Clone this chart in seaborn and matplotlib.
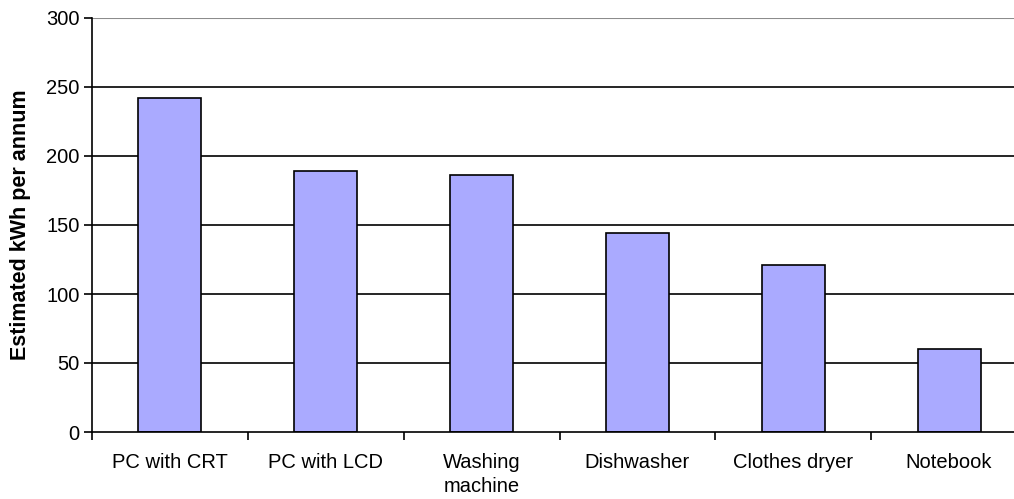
import matplotlib
matplotlib.use("Agg")
import matplotlib.pyplot as plt
import seaborn as sns
import pandas as pd
import numpy as np

categories = ["PC with CRT", "PC with LCD", "Washing\nmachine", "Dishwasher", "Clothes dryer", "Notebook"]
values = [242, 189, 186, 144, 121, 60]
yticks = [0, 50, 100, 150, 200, 250, 300]
ylabel = "Estimated kWh per annum"

sns.set_style("white")
plt.rcParams['font.family'] = ['Liberation Sans', 'DejaVu Sans']
plt.rcParams['text.color'] = 'black'
plt.rcParams['xtick.color'] = 'black'
plt.rcParams['ytick.color'] = 'black'
plt.rcParams['axes.labelcolor'] = 'black'

df = pd.DataFrame({"cat": categories, "val": values})

fig = plt.figure(figsize=(10.14, 4.99), dpi=100)
ax = fig.add_axes([92/1014, 67/499, 922/1014, 414/499])

# gridlines
for y in yticks[1:-1]:
    ax.axhline(y, color="black", lw=1.2, zorder=0)
ax.axhline(300, color="#8c8c8c", lw=1.5, zorder=0)

sns.barplot(data=df, x="cat", y="val", color="#AAAAFF", edgecolor="black",
            linewidth=1.2, width=0.405, saturation=1, ax=ax, zorder=2)

ax.set_yticks(yticks)
ax.set_yticklabels([str(t) for t in yticks], fontsize=14.5)
ax.set_xticks(range(len(categories)))
ax.set_xticklabels(categories, fontsize=14.5, va="top", linespacing=1.32)
ax.tick_params(axis="x", which="major", length=0, pad=15, bottom=True)
ax.set_xticks(np.arange(-0.5, 5.0, 1.0), minor=True)
ax.tick_params(axis="x", which="minor", length=6, width=1.2, color="black",
               direction="out", bottom=True)
ax.tick_params(axis="y", length=6, width=1.2, color="black", direction="out",
               pad=3, left=True)
ax.set_ylim(0, 300)
ax.set_xlim(-0.5, 5.5 - 13/155.8)
for s in ["top", "right"]:
    ax.spines[s].set_visible(False)
ax.spines["left"].set_color("black")
ax.spines["left"].set_linewidth(1.2)
ax.spines["bottom"].set_color("black")
ax.spines["bottom"].set_linewidth(1.2)
ax.set_xlabel("")
ax.set_ylabel(ylabel, fontsize=15.5, fontweight="bold")
ax.yaxis.set_label_coords(-61/922, 0.5)

fig.savefig("out.png", dpi=100)
